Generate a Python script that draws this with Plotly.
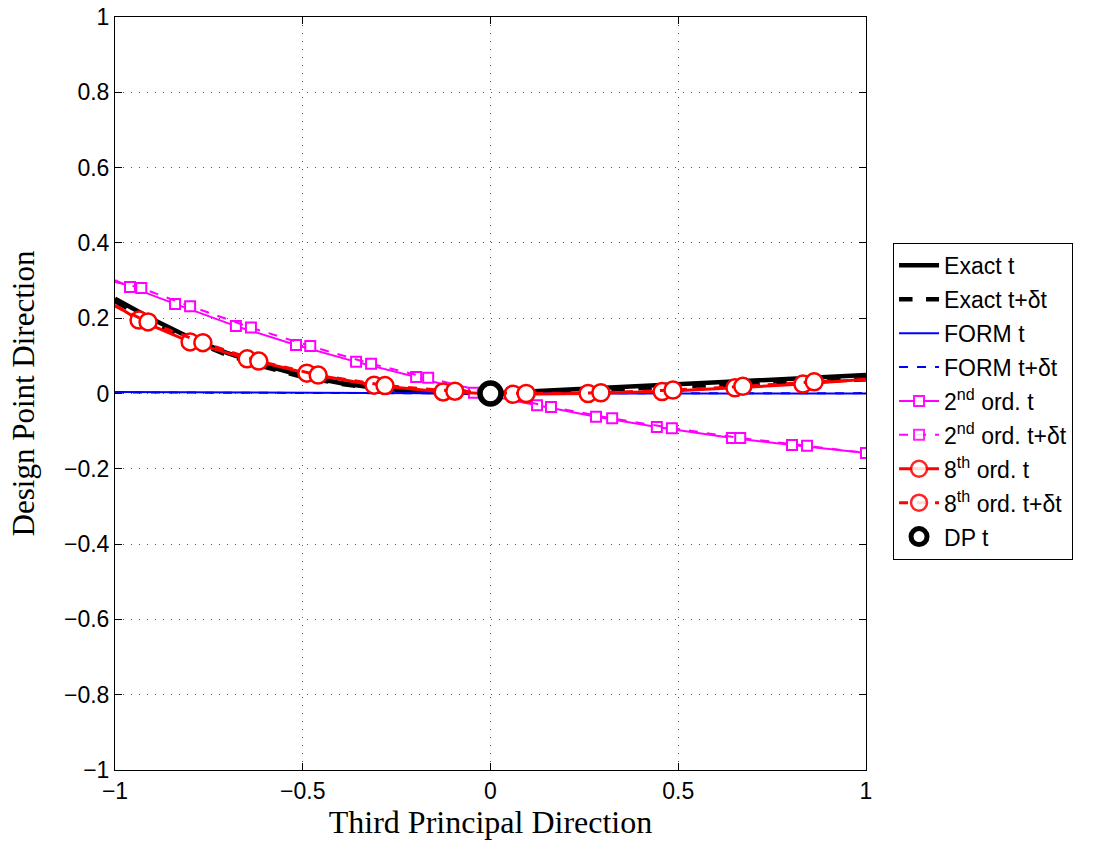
import plotly.graph_objects as go

# ---- data ----
exact_t_x = [-1.0, -0.9, -0.8, -0.7, -0.6, -0.5, -0.4, -0.3, -0.2, -0.1, 0.0, 0.1, 0.2, 0.3, 0.4, 0.5, 0.6, 0.7, 0.8, 0.9, 1.0]
exact_t_y = [0.252, 0.197, 0.148, 0.107, 0.074, 0.047, 0.028, 0.014, 0.006, 0.002, 0.0, 0.005, 0.010, 0.015, 0.020, 0.025, 0.030, 0.035, 0.040, 0.045, 0.049]
exact_dt_x = exact_t_x
exact_dt_y = [0.245, 0.190, 0.142, 0.102, 0.070, 0.044, 0.026, 0.013, 0.005, 0.001, 0.0, 0.002, 0.006, 0.010, 0.014, 0.019, 0.023, 0.027, 0.031, 0.035, 0.038]

form_t_x = [-1.0, 0.0, 1.0]
form_t_y = [0.004, 0.0, 0.0]
form_dt_x = [-1.0, 0.0, 1.0]
form_dt_y = [0.003, 0.0, 0.001]

ord2_t_x = [-1.0, -0.96, -0.84, -0.678, -0.518, -0.358, -0.198, -0.044, 0.124, 0.281, 0.443, 0.643, 0.803, 1.0]
ord2_t_y = [0.301, 0.283, 0.238, 0.179, 0.129, 0.084, 0.044, 0.002, -0.031, -0.062, -0.089, -0.118, -0.137, -0.158]
ord2_dt_x = [-1.0, -0.93, -0.80, -0.638, -0.48, -0.318, -0.166, 0.0, 0.161, 0.324, 0.483, 0.665, 0.843, 1.0]
ord2_dt_y = [0.296, 0.280, 0.232, 0.175, 0.126, 0.079, 0.042, 0.0, -0.036, -0.066, -0.092, -0.118, -0.139, -0.158]

ord8_t_x = [-1.0, -0.936, -0.80, -0.648, -0.489, -0.31, -0.126, 0.06, 0.26, 0.457, 0.651, 0.832, 1.0]
ord8_t_y = [0.235, 0.195, 0.137, 0.092, 0.054, 0.022, 0.004, -0.002, 0.0, 0.005, 0.015, 0.025, 0.038]
ord8_dt_x = [-1.0, -0.912, -0.766, -0.617, -0.459, -0.281, -0.095, 0.095, 0.294, 0.486, 0.672, 0.862, 1.0]
ord8_dt_y = [0.232, 0.190, 0.135, 0.086, 0.049, 0.021, 0.006, 0.0, 0.002, 0.009, 0.019, 0.031, 0.036]

dp_x = [0.0]
dp_y = [0.0]

x_ticks = [-1, -0.5, 0, 0.5, 1]
x_labels = ["\u22121", "\u22120.5", "0", "0.5", "1"]
y_ticks = [-1, -0.8, -0.6, -0.4, -0.2, 0, 0.2, 0.4, 0.6, 0.8, 1]
y_labels = ["\u22121", "\u22120.8", "\u22120.6", "\u22120.4", "\u22120.2", "0", "0.2", "0.4", "0.6", "0.8", "1"]

names = ["Exact t", "Exact t+\u03b4t", "FORM t", "FORM t+\u03b4t",
         "2<sup>nd</sup> ord. t", "2<sup>nd</sup> ord. t+\u03b4t",
         "8<sup>th</sup> ord. t", "8<sup>th</sup> ord. t+\u03b4t", "DP t"]

def mask(n, last=False):
    m = [1.0] * n
    m[0] = 0.0
    if not last:
        m[-1] = 0.0
    return m

SANS = "Liberation Sans, Arial, Helvetica"
SERIF = "Liberation Serif, Times New Roman, serif"

fig = go.Figure()
fig.add_trace(go.Scatter(x=exact_t_x, y=exact_t_y, mode="lines", name=names[0], legendgroup="g0",
                         line=dict(color="black", width=4.5)))
fig.add_trace(go.Scatter(x=exact_dt_x, y=exact_dt_y, mode="lines", name=names[1], legendgroup="g1",
                         line=dict(color="black", width=4.5, dash="dash")))
fig.add_trace(go.Scatter(x=form_t_x, y=form_t_y, mode="lines", name=names[2], legendgroup="g2",
                         line=dict(color="#0000ff", width=2)))
fig.add_trace(go.Scatter(x=form_dt_x, y=form_dt_y, mode="lines", name=names[3], legendgroup="g3",
                         line=dict(color="#0000ff", width=2, dash="dash")))
fig.add_trace(go.Scatter(x=ord2_t_x, y=ord2_t_y, mode="lines+markers", name=names[4], legendgroup="g4",
                         line=dict(color="#ff00ff", width=2),
                         marker=dict(symbol="square", size=10, color="white",
                                     opacity=mask(len(ord2_t_x), last=True),
                                     line=dict(color="#ff00ff", width=2))))
fig.add_trace(go.Scatter(x=ord2_dt_x, y=ord2_dt_y, mode="lines+markers", name=names[5], legendgroup="g5",
                         line=dict(color="#ff00ff", width=2, dash="dash"),
                         marker=dict(symbol="square", size=10, color="white",
                                     opacity=mask(len(ord2_dt_x)),
                                     line=dict(color="#ff00ff", width=2))))
fig.add_trace(go.Scatter(x=ord8_t_x, y=ord8_t_y, mode="lines+markers", name=names[6], legendgroup="g6",
                         line=dict(color="#ff0000", width=3),
                         marker=dict(symbol="circle", size=17, color="white",
                                     opacity=mask(len(ord8_t_x)),
                                     line=dict(color="#ff0000", width=2.5))))
fig.add_trace(go.Scatter(x=ord8_dt_x, y=ord8_dt_y, mode="lines+markers", name=names[7], legendgroup="g7",
                         line=dict(color="#ff0000", width=3, dash="dash"),
                         marker=dict(symbol="circle", size=17, color="white",
                                     opacity=mask(len(ord8_dt_x)),
                                     line=dict(color="#ff0000", width=2.5))))
fig.add_trace(go.Scatter(x=dp_x, y=dp_y, mode="markers", name=names[8], legendgroup="g8",
                         marker=dict(symbol="circle", size=21, color="white",
                                     line=dict(color="black", width=5.5))))

axis_common = dict(showline=True, mirror="ticks", linecolor="black", linewidth=1,
                   ticks="inside", ticklen=7, tickcolor="black",
                   showgrid=True, gridcolor="#555555", griddash="1px,7px", gridwidth=1,
                   zeroline=False, tickfont=dict(family=SANS, size=23, color="black"))

fig.update_xaxes(range=[-1, 1], tickvals=x_ticks, ticktext=x_labels,
                 title=dict(text="Third Principal Direction",
                            font=dict(family=SERIF, size=32, color="black"),
                            standoff=4),
                 **axis_common)
fig.update_yaxes(range=[-1, 1], tickvals=y_ticks, ticktext=y_labels,
                 title=dict(text="Design Point Direction",
                            font=dict(family=SERIF, size=31, color="black"),
                            standoff=20),
                 **axis_common)

fig.update_layout(
    width=1115, height=844,
    margin=dict(l=115, r=249, t=17, b=74, autoexpand=False),
    plot_bgcolor="white", paper_bgcolor="white",
    legend=dict(x=1.036, y=0.70, xanchor="left", yanchor="top",
                bordercolor="black", borderwidth=1, bgcolor="white",
                font=dict(family=SANS, size=23, color="black"),
                tracegroupgap=1, itemwidth=40),
    showlegend=True,
)

fig.write_html("out.html", config={"displayModeBar": False},
               post_script="document.body.style.margin='0';")
